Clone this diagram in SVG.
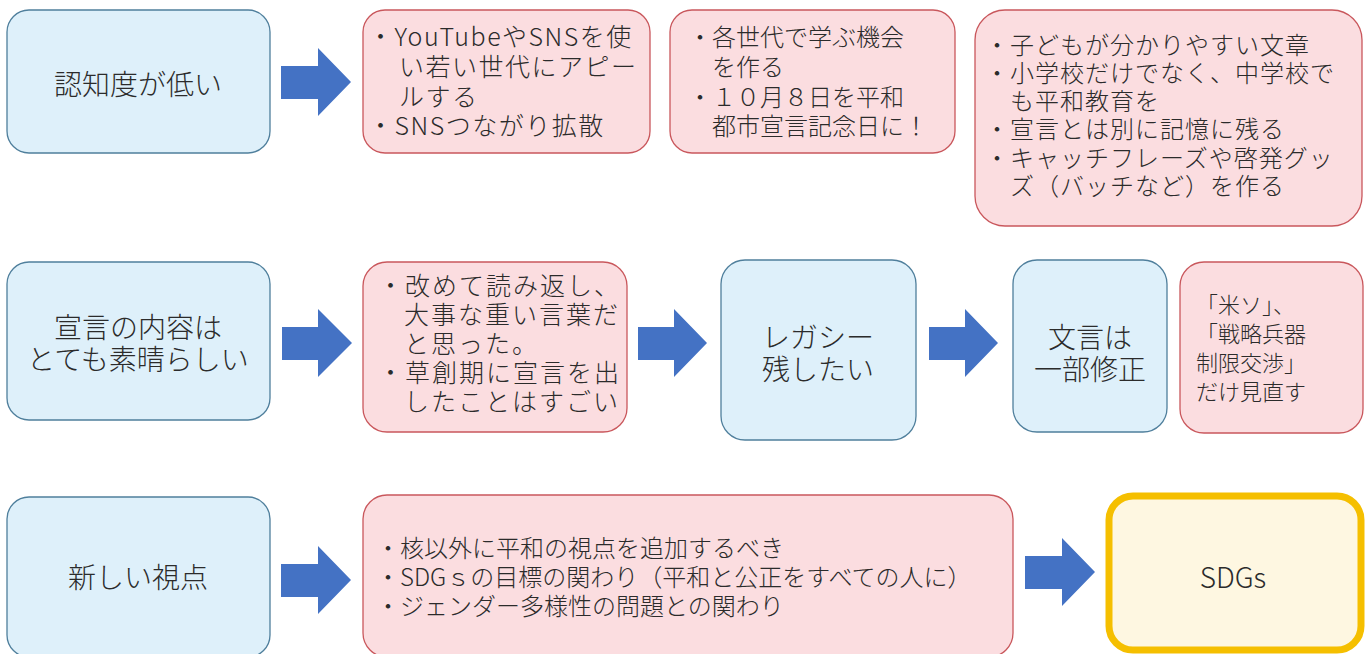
<svg xmlns="http://www.w3.org/2000/svg" width="1370" height="654" viewBox="0 0 1370 654">
<style>
.blue{fill:#DEF0FA;stroke:#4F7F9C;stroke-width:1.3}
.pink{fill:#FBDDE0;stroke:#C9575C;stroke-width:1.3}
.gold{fill:#FEF7E1;stroke:#F5BF00;stroke-width:7}
.arr{fill:#4472C4}
text{font-family:"Noto Sans CJK JP","Noto Sans",sans-serif;fill:#2B2B2B;font-weight:300}
.big{font-size:28px;text-anchor:middle}
.t24{font-size:24px}
.t24s{font-size:24px;letter-spacing:1px}
.t25s{font-size:25px;letter-spacing:1.5px}
.t25{font-size:25px;letter-spacing:2px}
.t22{font-size:22px}
</style>
<rect width="1370" height="654" fill="#FFFFFF"/>
<g id="connectors">
<polygon class="arr" points="281,66 318,66 318,48 351,82 318,116 318,99 281,99"/>
<polygon class="arr" points="282,327 318,327 318,309 352,343 318,377 318,360 282,360"/>
<polygon class="arr" points="638,327 674,327 674,309 707,343 674,377 674,360 638,360"/>
<polygon class="arr" points="929,327 965,327 965,309 998,343 965,377 965,360 929,360"/>
<polygon class="arr" points="281,564 318,564 318,546 351,580 318,614 318,597 281,597"/>
<polygon class="arr" points="1025,556 1062,556 1062,538 1095,572 1062,606 1062,589 1025,589"/>
</g>
<g id="n1">
<rect class="blue" x="7" y="10" width="263" height="143" rx="22"/>
<text class="big" x="138" y="95">認知度が低い</text>
</g>
<g id="n2">
<rect class="pink" x="363" y="10" width="287" height="143" rx="22"/>
<text class="t25s"><tspan x="368" y="46">・YouTubeやSNSを使</tspan><tspan x="399" y="76">い若い世代にアピー</tspan><tspan x="399" y="106">ルする</tspan><tspan x="368" y="135">・SNSつながり拡散</tspan></text>
</g>
<g id="n3">
<rect class="pink" x="670" y="10" width="285" height="143" rx="22"/>
<text class="t24"><tspan x="688" y="46">・各世代で学ぶ機会</tspan><tspan x="712" y="76">を作る</tspan><tspan x="688" y="106">・１０月８日を平和</tspan><tspan x="712" y="135">都市宣言記念日に！</tspan></text>
</g>
<g id="n4">
<rect class="pink" x="975" y="10" width="387" height="216" rx="30"/>
<text class="t24s"><tspan x="985" y="54">・子どもが分かりやすい文章</tspan><tspan x="985" y="82">・小学校だけでなく、中学校で</tspan><tspan x="1010" y="110">も平和教育を</tspan><tspan x="985" y="138">・宣言とは別に記憶に残る</tspan><tspan x="985" y="167">・キャッチフレーズや啓発グッ</tspan><tspan x="1010" y="195">ズ（バッチなど）を作る</tspan></text>
</g>
<g id="n5">
<rect class="blue" x="7" y="262" width="263" height="158" rx="22"/>
<text class="big"><tspan x="138" y="338">宣言の内容は</tspan><tspan x="138" y="370">とても素晴らしい</tspan></text>
</g>
<g id="n6">
<rect class="pink" x="363" y="262" width="264" height="170" rx="24"/>
<text class="t25"><tspan x="378" y="295">・改めて読み返し、</tspan><tspan x="404" y="324">大事な重い言葉だ</tspan><tspan x="404" y="353">と思った。</tspan><tspan x="378" y="382">・草創期に宣言を出</tspan><tspan x="404" y="411">したことはすごい</tspan></text>
</g>
<g id="n7">
<rect class="blue" x="721" y="260" width="195" height="180" rx="24"/>
<text class="big"><tspan x="818" y="348">レガシー</tspan><tspan x="818" y="380">残したい</tspan></text>
</g>
<g id="n8">
<rect class="blue" x="1013" y="260" width="154" height="172" rx="24"/>
<text class="big"><tspan x="1090" y="348">文言は</tspan><tspan x="1090" y="380">一部修正</tspan></text>
</g>
<g id="n9">
<rect class="pink" x="1180" y="262" width="183" height="171" rx="24"/>
<text class="t22"><tspan x="1196" y="313">「米ソ」、</tspan><tspan x="1196" y="342">「戦略兵器</tspan><tspan x="1196" y="371">制限交渉」</tspan><tspan x="1196" y="400">だけ見直す</tspan></text>
</g>
<g id="n10">
<rect class="blue" x="7" y="497" width="263" height="160" rx="22"/>
<text class="big" x="138" y="588">新しい視点</text>
</g>
<g id="n11">
<rect class="pink" x="363" y="495" width="650" height="162" rx="24"/>
<text class="t24"><tspan x="376" y="557">・核以外に平和の視点を追加するべき</tspan><tspan x="376" y="586">・SDGｓの目標の関わり（平和と公正をすべての人に）</tspan><tspan x="376" y="615">・ジェンダー多様性の問題との関わり</tspan></text>
</g>
<g id="n12">
<rect class="gold" x="1109" y="496" width="252" height="154" rx="24"/>
<text class="big" x="1233" y="588">SDGs</text>
</g>
</svg>
